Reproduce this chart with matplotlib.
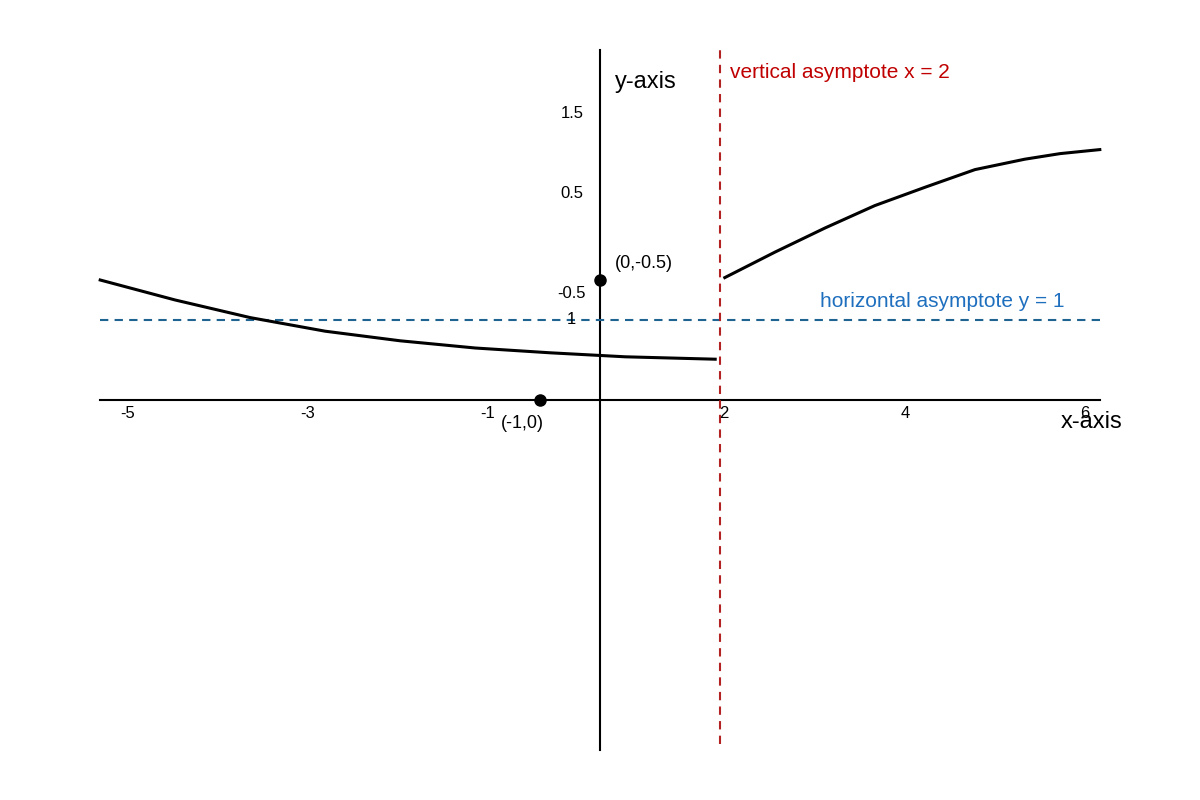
import matplotlib
matplotlib.use('Agg')
import matplotlib.pyplot as plt
import numpy as np

plt.rcParams['font.family'] = ['Liberation Sans', 'DejaVu Sans']

# curve points (plot units: 60 px per x unit, 80 px per y unit, origin at axes crossing)
left_x = [-8.33, -7.08, -5.83, -4.58, -3.33, -2.08, -0.83, 0.42, 1.92]
left_y = [1.50, 1.25, 1.03, 0.86, 0.74, 0.65, 0.59, 0.54, 0.51]
right_x = [2.08, 2.92, 3.75, 4.58, 5.42, 6.25, 7.08, 7.67, 8.33]
right_y = [1.53, 1.85, 2.15, 2.43, 2.66, 2.88, 3.01, 3.08, 3.13]

xtick_labels = ['-5', '-3', '-1', '2', '4', '6']
xtick_pos = [-7.87, -4.87, -1.87, 2.07, 5.08, 8.08]
ytick_labels = ['1.5', '0.5', '-0.5', '1']
ytick_pos = [3.575, 2.575, 1.325, 1.01]

points = [(-1.0, 0.0), (0.0, 1.5)]
point_labels = ['(-1,0)', '(0,-0.5)']

fig = plt.figure(figsize=(12, 8), dpi=100)
ax = fig.add_axes([0, 0, 1, 1])
ax.set_xlim(-10, 10); ax.set_ylim(-5, 5)
ax.axis('off')

ax.plot([-8.33, 8.33], [0, 0], color='black', lw=1.5)
ax.plot([0, 0], [-4.375, 4.375], color='black', lw=1.5)
ax.plot([-8.33, 8.33], [1, 1], color='#1f6391', lw=1.5, ls=(0, (4, 3)))
ax.plot([2, 2], [-4.3, 4.4], color='#b22222', lw=1.5, ls=(0, (4, 3)))
ax.plot(left_x, left_y, color='black', lw=2.2)
ax.plot(right_x, right_y, color='black', lw=2.2)

for (px, py) in points:
    ax.plot(px, py, 'o', color='black', ms=8)
ax.text(-1.65, -0.3, point_labels[0], fontsize=13, va='center')
ax.text(0.25, 1.7, point_labels[1], fontsize=13, va='center')

for lab, p in zip(xtick_labels, xtick_pos):
    ax.text(p, -0.17, lab, fontsize=12, ha='center', va='center')
for lab, p in zip(ytick_labels, ytick_pos):
    ax.text(-0.47, p, lab, fontsize=12, ha='center', va='center')

ax.text(8.2, -0.27, 'x-axis', fontsize=17, ha='center', va='center')
ax.text(0.25, 3.98, 'y-axis', fontsize=17, ha='left', va='center')
ax.text(2.17, 4.1, 'vertical asymptote x = 2', fontsize=15, color='#c00000', va='center')
ax.text(3.67, 1.23, 'horizontal asymptote y = 1', fontsize=15, color='#1f6fbf', va='center')

fig.savefig('out.png', dpi=100)
